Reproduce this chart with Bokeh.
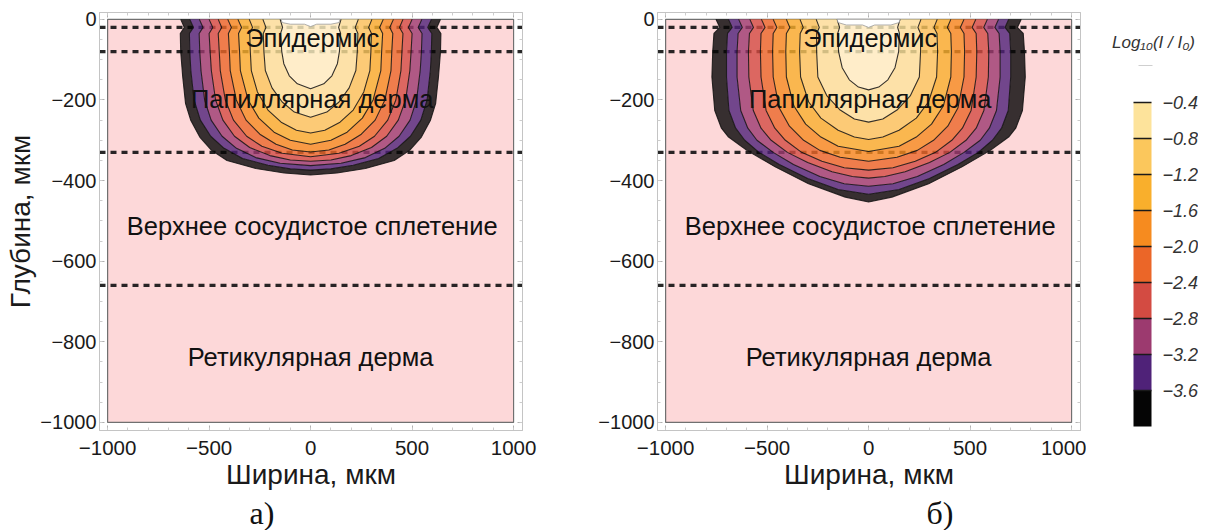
from bokeh.plotting import figure
from bokeh.models import Range1d, FixedTicker, LinearAxis, Title
from bokeh.layouts import row
from bokeh.embed import file_html
from bokeh.resources import INLINE
from bokeh.core.properties import value

# ---------------- data ----------------
# contour levels of log10(I/I0) (outer -> inner boundary)
LEVELS = [-4.0, -3.6, -3.2, -2.8, -2.4, -2.0, -1.6, -1.2, -0.8, -0.4]
CBAR_TICKS = [-0.4, -0.8, -1.2, -1.6, -2.0, -2.4, -2.8, -3.2, -3.6]
CBAR_COLORS = ["#FDE39B", "#FBC75C", "#F9AF2C", "#F68B1F", "#EB6628",
               "#D34B42", "#9C3A6F", "#4F2278", "#050505"]
BAND_COLORS = ["#050505", "#4F2278", "#9C3A6F", "#D34B42", "#EB6628",
               "#F68B1F", "#F9AF2C", "#FBC75C", "#FDE39B", "#FFF3C4"]

X_TICKS = [-1000, -500, 0, 500, 1000]
Y_TICKS = [0, -200, -400, -600, -800, -1000]
DOMAIN_X = [-1000, 1000]
DOMAIN_Y = [-1000, 0]

LAYER_DEPTHS = [-20, -80, -330, -660]
LAYER_NAMES = ["Эпидермис", "Папиллярная дерма",
               "Верхнее сосудистое сплетение", "Ретикулярная дерма"]
LAYER_LABEL_Y = [-47, -197, -512, -837]
LAYER_LABEL_X = [8, 8, 8, 0]

# contour boundaries: (depth, half-width) in um, panel a
A_CONTOURS = [
    [(0, 640), (-20, 622), (-35, 642), (-80, 640), (-143, 630), (-209, 616), (-251, 590), (-292, 546), (-325, 488), (-350, 412), (-370, 270), (-381, 130), (-386, 0)],
    [(0, 595), (-20, 577), (-35, 597), (-80, 595), (-127, 590), (-200, 574), (-250, 543), (-290, 492), (-320, 426), (-345, 335), (-362, 210), (-371, 100), (-374, 0)],
    [(0, 548), (-20, 530), (-35, 549), (-80, 546), (-127, 540), (-200, 522), (-250, 490), (-290, 436), (-320, 365), (-343, 270), (-357, 150), (-363, 0)],
    [(0, 500), (-20, 482), (-35, 500), (-80, 495), (-127, 489), (-200, 468), (-250, 432), (-290, 375), (-318, 300), (-338, 200), (-349, 100), (-352, 0)],
    [(0, 455), (-20, 438), (-35, 455), (-80, 450), (-127, 445), (-200, 420), (-250, 380), (-290, 315), (-315, 240), (-332, 140), (-341, 0)],
    [(0, 408), (-20, 390), (-35, 405), (-80, 400), (-127, 396), (-200, 366), (-250, 318), (-285, 250), (-310, 170), (-324, 90), (-329, 0)],
    [(0, 358), (-20, 340), (-35, 355), (-80, 350), (-127, 346), (-200, 308), (-245, 255), (-280, 180), (-300, 100), (-310, 0)],
    [(0, 302), (-20, 286), (-35, 300), (-80, 297), (-127, 292), (-180, 262), (-225, 210), (-255, 145), (-275, 70), (-282, 0)],
    [(0, 235), (-20, 220), (-35, 233), (-80, 230), (-127, 223), (-170, 190), (-205, 140), (-230, 80), (-243, 0)],
    [(0, 150), (-20, 138), (-35, 148), (-80, 142), (-110, 132), (-140, 105), (-160, 65), (-172, 0)],
]
# panel b
B_CONTOURS = [
    [(0, 752), (-20, 733), (-35, 762), (-80, 768), (-143, 772), (-226, 758), (-270, 725), (-292, 690), (-325, 600), (-366, 460), (-408, 296), (-441, 115), (-453, 0)],
    [(0, 690), (-20, 672), (-35, 695), (-80, 700), (-143, 700), (-226, 688), (-270, 655), (-300, 610), (-330, 540), (-360, 440), (-395, 300), (-422, 150), (-434, 0)],
    [(0, 640), (-20, 622), (-35, 643), (-80, 648), (-143, 648), (-226, 630), (-270, 595), (-300, 550), (-330, 470), (-360, 370), (-390, 240), (-408, 120), (-414, 0)],
    [(0, 585), (-20, 567), (-35, 587), (-80, 592), (-143, 590), (-226, 568), (-270, 530), (-300, 480), (-330, 400), (-355, 300), (-378, 180), (-390, 80), (-394, 0)],
    [(0, 528), (-20, 510), (-35, 530), (-80, 533), (-143, 530), (-226, 505), (-270, 462), (-300, 410), (-330, 330), (-352, 230), (-368, 120), (-374, 0)],
    [(0, 470), (-20, 452), (-35, 470), (-80, 473), (-143, 470), (-220, 440), (-265, 390), (-300, 320), (-325, 240), (-342, 140), (-352, 0)],
    [(0, 405), (-20, 388), (-35, 405), (-80, 408), (-143, 405), (-215, 368), (-260, 310), (-292, 235), (-315, 150), (-328, 0)],
    [(0, 338), (-20, 322), (-35, 337), (-80, 340), (-143, 335), (-205, 295), (-245, 235), (-275, 150), (-292, 70), (-298, 0)],
    [(0, 258), (-20, 243), (-35, 256), (-80, 256), (-143, 250), (-190, 205), (-225, 140), (-247, 70), (-255, 0)],
    [(0, 155), (-20, 143), (-35, 152), (-80, 148), (-120, 130), (-150, 95), (-168, 50), (-175, 0)],
]
A_CAP = [(0, 145), (-8, 140), (-12, 100), (-12, 30), (-18, 0)]
B_CAP = [(0, 155), (-8, 150), (-14, 110), (-14, 30), (-20, 0)]

FONT = "Liberation Sans"
FRAME_W, FRAME_H, TOP = 423, 418, 12


def outline(profile):
    ds = [d for d, w in profile]
    ws = [w for d, w in profile]
    xs = [-w for w in ws] + [w for w in ws[::-1][1:]]
    ys = ds + ds[::-1][1:]
    return xs, ys


def minus(v):
    return str(v).replace("-", "\u2212")


def style_axis(ax):
    ax.axis_line_color = "#c4c4c4"
    ax.major_tick_line_color = "#b0b0b0"
    ax.minor_tick_line_color = "#cccccc"
    ax.major_tick_in = 5
    ax.major_tick_out = 0
    ax.minor_tick_in = 3
    ax.minor_tick_out = 0


def make_panel(contours, cap, ylabel, tag, tag_offset, min_left, min_right):
    p = figure(output_backend="svg", toolbar_location=None,
               frame_width=FRAME_W, frame_height=FRAME_H,
               x_range=Range1d(-1040, 1044), y_range=Range1d(-1020, 17),
               min_border_left=min_left, min_border_right=min_right,
               min_border_top=TOP, min_border_bottom=0)
    p.grid.visible = False
    p.outline_line_color = "#c4c4c4"
    p.background_fill_color = "white"

    xt = FixedTicker(ticks=X_TICKS, minor_ticks=list(range(-1000, 1001, 100)))
    yt = FixedTicker(ticks=Y_TICKS, minor_ticks=list(range(-1000, 1, 50)))
    p.below[0].ticker = xt
    p.left[0].ticker = yt
    p.add_layout(LinearAxis(ticker=xt, major_label_text_font_size="1px",
                            major_label_text_color=None,
                            major_label_standoff=0), "above")
    p.add_layout(LinearAxis(ticker=yt, major_label_text_font_size="1px",
                            major_label_text_color=None,
                            major_label_standoff=0), "right")
    for ax in p.axis:
        style_axis(ax)

    xa = p.below[0]
    xa.major_label_overrides = {t: minus(t) for t in X_TICKS}
    xa.major_label_text_font = FONT
    xa.major_label_text_font_size = "20.5px"
    xa.major_label_text_color = "#1a1a1a"
    xa.major_label_standoff = 10
    xa.axis_label = "Ширина, мкм"
    xa.axis_label_text_font = FONT
    xa.axis_label_text_font_size = "28px"
    xa.axis_label_text_font_style = "normal"
    xa.axis_label_text_color = "#1a1a1a"
    xa.axis_label_standoff = 1

    ya = p.left[0]
    ya.major_label_overrides = {t: minus(t) for t in Y_TICKS}
    ya.major_label_text_font = FONT
    ya.major_label_text_font_size = "20px"
    ya.major_label_text_color = "#1a1a1a"
    ya.major_label_standoff = 3
    if ylabel:
        ya.axis_label = ylabel
        ya.axis_label_text_font = FONT
        ya.axis_label_text_font_size = "28px"
        ya.axis_label_text_font_style = "normal"
        ya.axis_label_text_color = "#1a1a1a"
        ya.axis_label_standoff = 1

    # pink tissue domain
    p.quad(left=[DOMAIN_X[0]], right=[DOMAIN_X[1]], bottom=[DOMAIN_Y[0]], top=[DOMAIN_Y[1]],
           fill_color="#FDD8D9", line_color="#707070", line_width=1.2)

    # layer boundaries (dotted)
    p.segment(x0=[-1040] * len(LAYER_DEPTHS), x1=[1044] * len(LAYER_DEPTHS),
              y0=LAYER_DEPTHS, y1=LAYER_DEPTHS, line_color="#111111",
              line_width=3.2, line_dash="6 5", line_alpha=0.9)

    # filled contour bands (ring = contour i minus contour i+1)
    rings = [outline(c) for c in contours]
    mxs, mys = [], []
    for i, (xs, ys) in enumerate(rings):
        if i + 1 < len(rings):
            hx, hy = rings[i + 1]
            mxs.append([[xs, hx]])
            mys.append([[ys, hy]])
        else:
            mxs.append([[xs]])
            mys.append([[ys]])
    p.multi_polygons(xs=mxs, ys=mys, fill_color=BAND_COLORS, fill_alpha=0.8,
                     line_color=None)
    p.multi_line(xs=[r[0] for r in rings], ys=[r[1] for r in rings],
                 line_color="#111111", line_width=1.1, line_alpha=0.85)

    cx, cy = outline(cap)
    p.patch(cx, cy, fill_color="white", line_color="#9a9a9a", line_width=0.8)

    p.text(x=LAYER_LABEL_X, y=LAYER_LABEL_Y, text=LAYER_NAMES,
           text_font=value(FONT), text_font_size="25.5px", text_color="#111111",
           text_align="center", text_baseline="middle")

    p.add_layout(Title(text=tag, align="left", offset=tag_offset,
                       text_font="Liberation Serif", text_font_size="32px",
                       text_font_style="normal", text_color="#111111",
                       standoff=0), "below")
    return p


pa = make_panel(A_CONTOURS, A_CAP, "Глубина, мкм", "а)", 150, 99, 69)
pb = make_panel(B_CONTOURS, B_CAP, None, "б)", 269, 66, 6)

# ---------------- colour bar ----------------
# frame aligned with the panels' frames (page y 12..430); -0.4 at y=102, 90 px per unit
V_TOP = CBAR_TICKS[0] + 90 / 90.0
V_BOT = V_TOP - FRAME_H / 90.0
pc = figure(output_backend="svg", toolbar_location=None,
            frame_width=112, frame_height=FRAME_H,
            x_range=Range1d(0, 112), y_range=Range1d(V_BOT, V_TOP),
            min_border_left=0, min_border_right=0, min_border_top=TOP,
            min_border_bottom=0, x_axis_location=None, y_axis_location=None)
pc.grid.visible = False
pc.outline_line_color = None

tops = CBAR_TICKS
bottoms = CBAR_TICKS[1:] + [LEVELS[0]]
pc.quad(left=47, right=65, top=tops, bottom=bottoms, fill_color=CBAR_COLORS,
        line_color=None)
pc.segment(x0=[47] * len(CBAR_TICKS), x1=[65] * len(CBAR_TICKS), y0=CBAR_TICKS,
           y1=CBAR_TICKS, line_color="#1a1a1a", line_width=1.6)
pc.text(x=[76] * len(CBAR_TICKS), y=CBAR_TICKS,
        text=[minus(f"{v:.1f}") for v in CBAR_TICKS],
        text_font=value(FONT), text_font_size="18px", text_font_style="italic",
        text_color="#333333", text_align="left", text_baseline="middle")
pc.text(x=[67], y=[V_TOP - 30 / 90.0], text=["Log\u2081\u2080(I / I\u2080)"],
        text_font=value(FONT), text_font_size="17px", text_font_style="italic",
        text_color="#333333", text_align="center", text_baseline="middle")
pc.segment(x0=[52], x1=[66], y0=[V_TOP - 53 / 90.0], y1=[V_TOP - 53 / 90.0],
           line_color="#cfcfcf", line_width=1)

layout = row(pa, pb, pc, spacing=0)
open("out.html", "w").write(file_html(layout, INLINE))
